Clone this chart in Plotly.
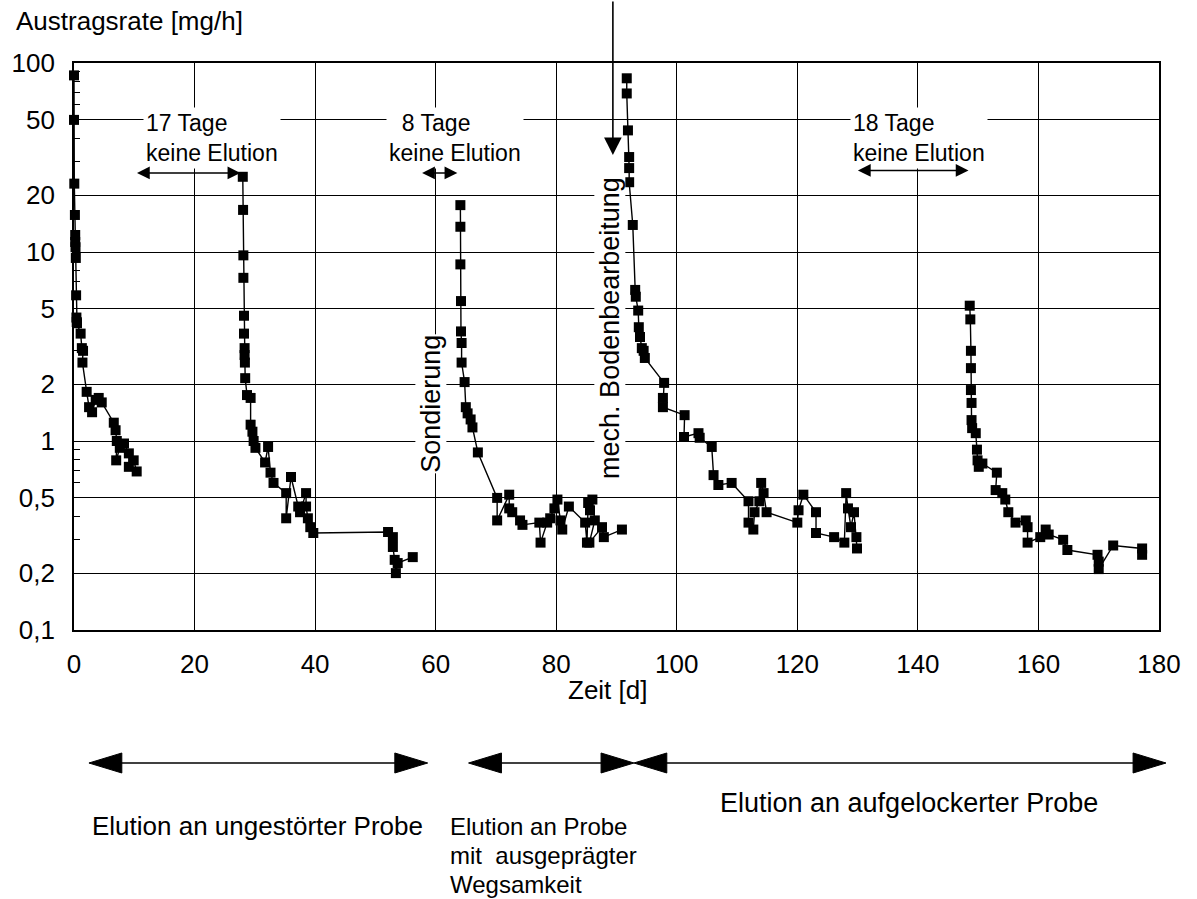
import math
import plotly.graph_objects as go

# ---- data ----
t1 = [0.0, 0.0, 0.05, 0.15, 0.2, 0.2, 0.25, 0.3, 0.35, 0.4, 0.45, 0.5, 1.1, 1.3, 1.5, 1.4,
      2.1, 2.5, 3.0, 3.6, 4.1, 4.6, 6.6, 6.9, 7.1, 7.0, 7.6, 8.3, 9.1, 9.1, 9.9, 10.4]
r1 = [86, 50, 23, 15.7, 12.3, 11.3, 10.6, 9.3, 5.9, 4.5, 4.26, 4.2, 3.7, 3.1, 3.0, 2.6,
      1.82, 1.51, 1.42, 1.65, 1.69, 1.6, 1.25, 1.14, 1.0, 0.79, 0.92, 0.97, 0.86, 0.73, 0.79, 0.69]

t2 = [28.0, 28.05, 28.1, 28.1, 28.2, 28.2, 28.3, 28.3, 28.35, 28.4, 28.7, 29.3, 29.3, 29.6, 29.8,
      30.1, 31.7, 32.2, 32.6, 33.1, 35.2, 35.2, 36.0, 37.2, 37.5, 38.5, 38.5, 38.8, 39.2, 39.7,
      52.1, 52.9, 52.9, 53.2, 53.4, 53.7, 56.2]
r2 = [25, 16.7, 9.6, 7.3, 4.6, 3.7, 3.1, 2.85, 2.6, 2.15, 1.75, 1.69, 1.22, 1.12, 1.0,
      0.92, 0.77, 0.93, 0.68, 0.6, 0.53, 0.39, 0.645, 0.45, 0.42, 0.53, 0.45, 0.39, 0.35, 0.326,
      0.33, 0.31, 0.275, 0.235, 0.2, 0.226, 0.243]

t3 = [64.1, 64.1, 64.1, 64.2, 64.2, 64.3, 64.3, 64.8, 65.0, 65.3, 65.8, 66.1, 67.0, 70.2, 70.2,
      72.2, 72.2, 72.7, 74.0, 74.4, 77.2, 77.4, 78.5, 79.0, 79.7, 80.2, 80.7, 81.0, 82.1, 84.8,
      85.1, 85.3, 85.6, 86.0, 86.4, 85.5, 87.6, 87.9, 90.9]
r3 = [17.7, 13.6, 8.6, 5.5, 3.8, 3.3, 2.6, 2.05, 1.51, 1.4, 1.3, 1.18, 0.87, 0.5, 0.38,
      0.52, 0.44, 0.42, 0.38, 0.36, 0.37, 0.29, 0.37, 0.39, 0.44, 0.49, 0.38, 0.34, 0.45, 0.37,
      0.29, 0.47, 0.43, 0.49, 0.38, 0.29, 0.35, 0.31, 0.34]

t4 = [91.7, 91.7, 91.9, 92.1, 92.1, 92.1, 92.7, 93.1, 93.2, 93.6, 93.7, 93.9, 94.2, 94.5, 94.7,
      97.9, 97.7, 97.7, 101.3, 101.2, 103.6, 103.8, 105.8, 106.1, 106.9, 109.1, 111.9, 111.9,
      112.7, 112.9, 113.7, 114.0, 114.4, 114.9, 120.0, 120.2, 121.0, 123.1, 123.1, 126.1, 127.8,
      128.1, 128.4, 128.9, 129.4, 129.8, 129.9]
r4 = [83, 69, 44, 31.8, 27.8, 23.4, 13.9, 6.3, 5.8, 4.9, 4.0, 3.55, 3.1, 3.0, 2.75,
      2.03, 1.69, 1.51, 1.37, 1.05, 1.1, 1.04, 0.93, 0.66, 0.585, 0.6, 0.48, 0.37,
      0.34, 0.42, 0.48, 0.6, 0.53, 0.42, 0.37, 0.43, 0.52, 0.42, 0.326, 0.31, 0.29,
      0.53, 0.44, 0.35, 0.42, 0.31, 0.27]

t5 = [148.6, 148.7, 148.8, 148.8, 148.8, 148.9, 148.9, 149.0, 149.6, 149.8, 149.9, 150.1, 150.7,
      153.1, 152.9, 154.0, 154.5, 155.0, 156.2, 157.9, 158.2, 158.2, 160.3, 161.2, 161.7, 164.1,
      164.8, 169.8, 170.0, 170.0, 172.4, 177.2, 177.2]
r5 = [5.2, 4.4, 3.0, 2.43, 1.86, 1.59, 1.29, 1.17, 1.1, 0.9, 0.79, 0.73, 0.76,
      0.68, 0.55, 0.53, 0.49, 0.42, 0.37, 0.38, 0.35, 0.29, 0.31, 0.34, 0.32, 0.3,
      0.265, 0.25, 0.23, 0.21, 0.28, 0.27, 0.25]

x_ticks = [0, 20, 40, 60, 80, 100, 120, 140, 160, 180]
y_ticks = [0.1, 0.2, 0.5, 1, 2, 5, 10, 20, 50, 100]
y_ticktext = ["0,1", "0,2", "0,5", "1", "2", "5", "10", "20", "50", "100"]
y_minor = [m * d for d in (0.1, 1, 10) for m in (3, 4, 6, 7, 8, 9)]

# ---- figure ----
W, H = 1197, 899
ML, MR, MT, MB = 70, 38, 63, 269
PW, PH = W - ML - MR, H - MT - MB
FONT = "Liberation Sans, Arial, sans-serif"


def pxx(px):
    return (px - ML) / PW


def pxy(py):
    return (MT + PH - py) / PH


fig = go.Figure()
for tx, ry in [(t1, r1), (t2, r2), (t3, r3), (t4, r4), (t5, r5)]:
    fig.add_trace(go.Scatter(
        x=tx, y=ry, mode="lines+markers",
        line=dict(color="black", width=1.4),
        marker=dict(symbol="square", size=10, color="black"),
        cliponaxis=False, showlegend=False))

ann = []
# axis titles
ann.append(dict(text="Austragsrate [mg/h]", xref="paper", yref="paper", x=pxx(10), y=pxy(21),
                xanchor="left", yanchor="middle", showarrow=False, font=dict(size=26)))
ann.append(dict(text="Zeit [d]", xref="paper", yref="paper", x=pxx(605), y=pxy(690),
                xanchor="center", yanchor="middle", showarrow=False, font=dict(size=26)))

# pause annotations
for txt, xl in [("17 Tage<br>keine Elution", 11.4),
                ("&nbsp;&nbsp;8 Tage<br>keine Elution", 51.8),
                ("18 Tage<br>keine Elution", 128.8)]:
    ann.append(dict(text=txt, x=xl, y=math.log10(40), xref="x", yref="y", xanchor="left",
                    yanchor="middle", align="left", showarrow=False, bgcolor="white",
                    borderpad=2, font=dict(size=23)))

for x0, x1, yv in [(10.2, 27.6, 26.2), (57.5, 63.6, 26.2), (129.8, 148.4, 27.0)]:
    ly = math.log10(yv)
    ann.append(dict(text="", x=x1, y=ly, ax=x0, ay=ly, xref="x", yref="y", axref="x", ayref="y",
                    showarrow=True, arrowhead=2, startarrowhead=2, arrowside="end+start",
                    arrowsize=1.6, startarrowsize=1.6, arrowwidth=1.6, arrowcolor="black"))

# rotated labels
ann.append(dict(text="Sondierung", x=59.2, y=math.log10(1.57), xref="x", yref="y",
                textangle=-90, showarrow=False, bgcolor="white", borderpad=0,
                font=dict(size=27)))
ann.append(dict(text="mech. Bodenbearbeitung", x=88.9, y=math.log10(3.96), xref="x", yref="y",
                textangle=-90, showarrow=False, bgcolor="white", borderpad=0,
                font=dict(size=27)))
ann.append(dict(text="", x=89.4, y=math.log10(32.6), xref="x", yref="y", ax=0, ay=-160,
                showarrow=True, arrowhead=2, arrowsize=2.2, arrowwidth=1.6, arrowcolor="black"))

# bottom phase labels
ann.append(dict(text="Elution an ungestörter Probe", xref="paper", yref="paper", x=pxx(86),
                y=pxy(826), xanchor="left", yanchor="middle", showarrow=False, font=dict(size=26)))
for i, line in enumerate(["Elution an Probe", "mit&nbsp; ausgeprägter", "Wegsamkeit"]):
    ann.append(dict(text=line, xref="paper", yref="paper", x=pxx(446), y=pxy(826 + 29 * i),
                    xanchor="left", yanchor="middle", showarrow=False, borderpad=0,
                    font=dict(size=24)))
ann.append(dict(text="Elution an aufgelockerter Probe", xref="paper", yref="paper", x=pxx(716),
                y=pxy(803), xanchor="left", yanchor="middle", showarrow=False, font=dict(size=27)))

# bottom double arrows (shapes)
shapes = []
AY = 763
HL, HH = 33, 10
for a, b in [(85, 425), (466, 632), (632, 1166)]:
    shapes.append(dict(type="line", xref="paper", yref="paper", x0=pxx(a + 5), x1=pxx(b - 5),
                       y0=pxy(AY), y1=pxy(AY), line=dict(color="black", width=1.6)))
    for tip, base in [(a, a + HL), (b, b - HL)]:
        path = "M {:.5f},{:.5f} L {:.5f},{:.5f} L {:.5f},{:.5f} Z".format(
            pxx(tip), pxy(AY), pxx(base), pxy(AY - HH), pxx(base), pxy(AY + HH))
        shapes.append(dict(type="path", xref="paper", yref="paper", path=path,
                           fillcolor="black", line=dict(color="black", width=1)))

fig.update_layout(
    width=W, height=H,
    margin=dict(l=ML, r=MR, t=MT, b=MB, pad=0),
    paper_bgcolor="white", plot_bgcolor="white",
    font=dict(family=FONT, color="black", size=24),
    annotations=ann, shapes=shapes,
    xaxis=dict(range=[0, 180], tickvals=x_ticks, showgrid=True, gridcolor="black", gridwidth=1.4,
               showline=True, linecolor="black", linewidth=1.8, mirror=True, zeroline=False,
               ticks="", ticklabelstandoff=10, tickfont=dict(size=26)),
    yaxis=dict(type="log", range=[-1, 2], tickvals=y_ticks, ticktext=y_ticktext,
               showgrid=True, gridcolor="black", gridwidth=1.4,
               showline=True, linecolor="black", linewidth=1.8, mirror=True, zeroline=False,
               ticks="", ticklabelstandoff=12, tickfont=dict(size=26),
               minor=dict(tickvals=y_minor, ticks="inside", ticklen=6, tickcolor="black",
                          tickwidth=1.3, showgrid=False)),
)

fig.write_html("out.html")
